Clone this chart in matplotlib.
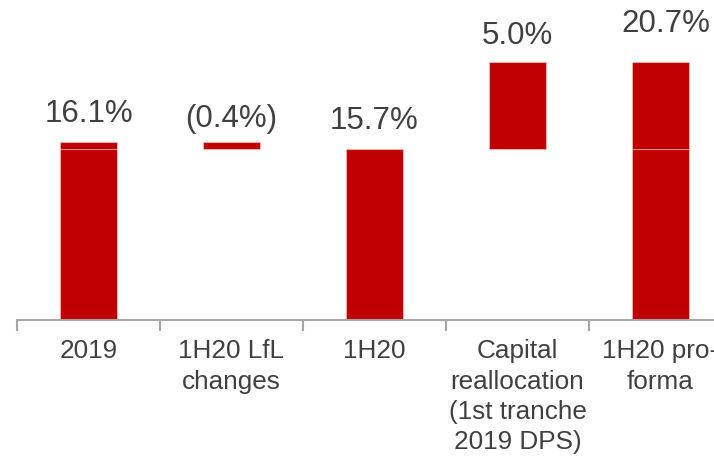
import matplotlib

matplotlib.use("Agg")

import matplotlib.pyplot as plt
import numpy as np

# chart data
categories = [
    "2019",
    "1H20 LfL\nchanges",
    "1H20",
    "Capital\nreallocation\n(1st tranche\n2019 DPS)",
    "1H20 pro-\nforma",
]
value_2019 = 16.1
lfl_change = -0.4
value_1h20 = 15.7
capital_reallocation = 5.0
value_pro_forma = 20.7
value_labels = ["16.1%", "(0.4%)", "15.7%", "5.0%", "20.7%"]

BAR_RED = "#c00000"
TEXT_GREY = "#404040"
AXIS_GREY = "#a6a6a6"

plt.rcParams["font.family"] = ["Liberation Sans", "DejaVu Sans"]

fig = plt.figure(figsize=(7.14, 4.59), dpi=100)
ax = fig.add_axes([17 / 714, 139 / 459, 715 / 714, 320 / 459])

x = np.arange(len(categories))
width = 0.4
edge = dict(edgecolor=(1, 1, 1, 0.35), linewidth=0.8)

# 2019: 1H20 level plus the LfL drop on top
ax.bar(x[0], value_1h20, width, color=BAR_RED, **edge)
ax.bar(x[0], -lfl_change, width, bottom=value_1h20, color=BAR_RED, **edge)

# LfL change floats between the two levels
ax.bar(x[1], -lfl_change, width, bottom=value_2019 + lfl_change,
       color=BAR_RED, **edge)

# 1H20
ax.bar(x[2], value_1h20, width, color=BAR_RED, **edge)

# capital reallocation floats on top of 1H20
ax.bar(x[3], capital_reallocation, width, bottom=value_1h20,
       color=BAR_RED, **edge)

# pro-forma stacked from the two pieces
ax.bar(x[4], value_1h20, width, color=BAR_RED, **edge)
ax.bar(x[4], value_pro_forma - value_1h20, width, bottom=value_1h20,
       color=BAR_RED, **edge)

tops = [value_2019, value_2019, value_1h20,
        value_1h20 + capital_reallocation, value_pro_forma]
offsets = [(0, 14.5), (0, 11), (0, 14.5), (0, 13), (3.5, 21.5)]
for xi, top, label, off in zip(x, tops, value_labels, offsets):
    ax.annotate(
        label,
        xy=(xi, top),
        xytext=off,
        textcoords="offset points",
        ha="center",
        va="baseline",
        fontsize=22.5,
        color=TEXT_GREY,
    )

ax.set_xlim(-0.5, len(categories) - 0.5)
ax.set_ylim(5.87, 5.87 + 320 / 17.4)

for side in ["top", "right", "left"]:
    ax.spines[side].set_visible(False)
ax.spines["bottom"].set_color(AXIS_GREY)
ax.spines["bottom"].set_linewidth(1.5)

ax.set_yticks([])
ax.set_xticks(x)
ax.set_xticklabels(categories, fontsize=18.8, color=TEXT_GREY,
                   linespacing=1.33)
ax.tick_params(axis="x", which="major", length=0, pad=14)

ax.set_xticks(np.arange(len(categories) + 1) - 0.5, minor=True)
ax.tick_params(axis="x", which="minor", length=8, width=1.5,
               color=AXIS_GREY)

fig.savefig("out.png", dpi=100)
